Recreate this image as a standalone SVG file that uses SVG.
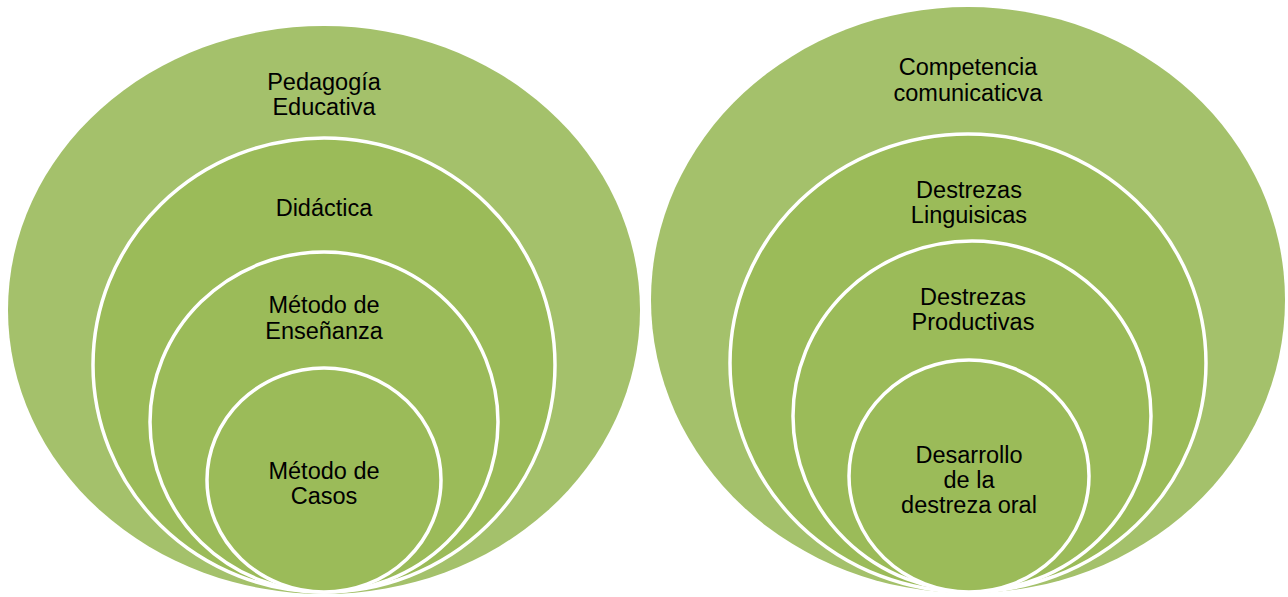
<svg xmlns="http://www.w3.org/2000/svg" width="1288" height="597" viewBox="0 0 1288 597">
<style>
.outer{fill:#a4c16b;}
.ring{fill:#9bbb59;stroke:#ffffff;stroke-width:3.5;}
.lbl{font-family:"Liberation Sans",Arial,sans-serif;font-size:23.5px;fill:#000000;text-anchor:middle;}
</style>
<rect width="1288" height="597" fill="#ffffff"/>
<g id="pedagogia">
<ellipse class="outer" cx="324" cy="310" rx="316" ry="284"/>
<text class="lbl" x="324" y="90">Pedagogía</text>
<text class="lbl" x="324" y="115">Educativa</text>
</g>
<g id="didactica">
<ellipse class="ring" cx="324" cy="365" rx="231" ry="227"/>
<text class="lbl" x="324" y="216">Didáctica</text>
</g>
<g id="metodo-ensenanza">
<ellipse class="ring" cx="324" cy="422" rx="174" ry="170"/>
<text class="lbl" x="324" y="313">Método de</text>
<text class="lbl" x="324" y="339">Enseñanza</text>
</g>
<g id="metodo-casos">
<ellipse class="ring" cx="324" cy="480" rx="117" ry="112"/>
<text class="lbl" x="324" y="479">Método de</text>
<text class="lbl" x="324" y="504">Casos</text>
</g>
<g id="competencia">
<ellipse class="outer" cx="968" cy="300" rx="317" ry="293"/>
<text class="lbl" x="968" y="75">Competencia</text>
<text class="lbl" x="968" y="101">comunicaticva</text>
</g>
<g id="destrezas-linguisicas">
<ellipse class="ring" cx="968" cy="363" rx="238" ry="229"/>
<text class="lbl" x="969" y="198">Destrezas</text>
<text class="lbl" x="969" y="223">Linguisicas</text>
</g>
<g id="destrezas-productivas">
<ellipse class="ring" cx="972" cy="416" rx="179" ry="175"/>
<text class="lbl" x="973" y="305">Destrezas</text>
<text class="lbl" x="973" y="330">Productivas</text>
</g>
<g id="desarrollo-oral">
<ellipse class="ring" cx="969" cy="476" rx="120" ry="116"/>
<text class="lbl" x="969" y="463">Desarrollo</text>
<text class="lbl" x="969" y="488">de la</text>
<text class="lbl" x="969" y="513">destreza oral</text>
</g>
<g id="connectors"></g>
</svg>
